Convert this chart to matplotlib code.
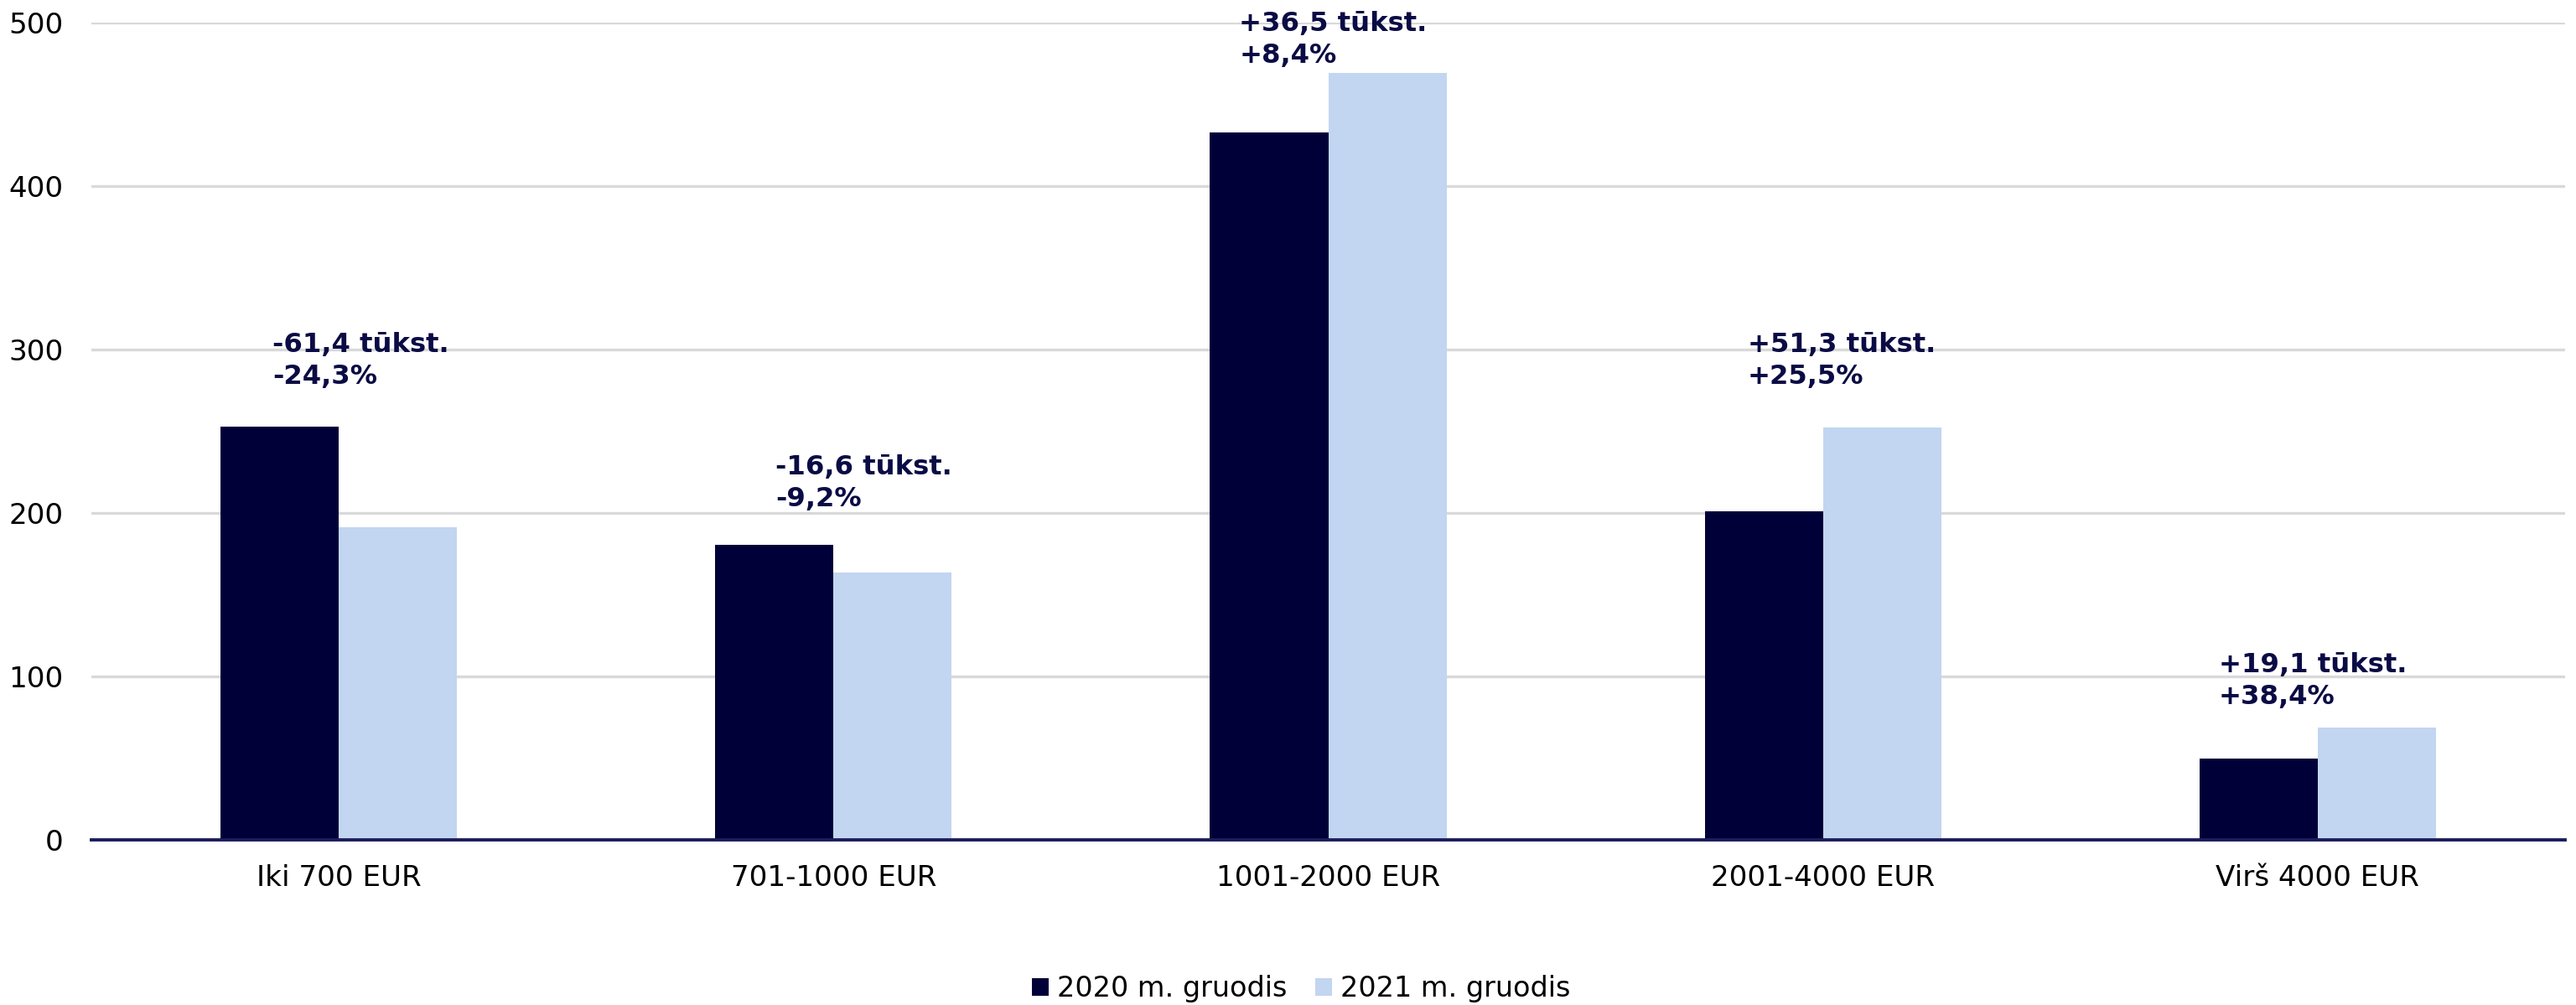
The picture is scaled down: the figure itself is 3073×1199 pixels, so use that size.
import matplotlib
matplotlib.use("Agg")
import matplotlib.pyplot as plt
import numpy as np

categories = ["Iki 700 EUR", "701-1000 EUR", "1001-2000 EUR", "2001-4000 EUR", "Virš 4000 EUR"]
series_names = ["2020 m. gruodis", "2021 m. gruodis"]
values_2020 = [252.7, 180.4, 433.0, 201.2, 49.7]
values_2021 = [191.3, 163.8, 469.3, 252.5, 68.8]
change_abs = ["-61,4 tūkst.", "-16,6 tūkst.", "+36,5 tūkst.", "+51,3 tūkst.", "+19,1 tūkst."]
change_pct = ["-24,3%", "-9,2%", "+8,4%", "+25,5%", "+38,4%"]
yticks = [0, 100, 200, 300, 400, 500]

# layout (annotation placement)
label_dx = [-0.134, -0.117, -0.18, -0.152, -0.2]
label_y2 = [279, 204, 475.5, 279, 83]
line_gap = 19.5

dark = "#000038"
light = "#C2D5F1"
txt_dark = "#0B0B45"

plt.rcParams['font.family'] = ['DejaVu Sans']
fig = plt.figure(figsize=(15.365, 5.995), dpi=200)
ax = fig.add_axes([109/3073, 1 - 1002/1199, (3060-109)/3073, (1002-27)/1199])

x = np.arange(len(categories))
w = 0.239
ax.bar(x - w/2, values_2020, width=w, color=dark, label=series_names[0], zorder=3)
ax.bar(x + w/2, values_2021, width=w, color=light, label=series_names[1], zorder=3)

ax.set_xlim(-0.5, len(categories) - 0.5)
ax.set_ylim(0, 500)
ax.set_yticks(yticks)
ax.set_xticks(x)
ax.set_xticklabels(categories)
ax.tick_params(axis='both', length=0, labelsize=12.3, colors="#000000")
ax.tick_params(axis='x', pad=10.5)
ax.tick_params(axis='y', pad=12)
ax.grid(axis='y', color="#D9D9D9", linewidth=1.2, zorder=0)
for s in ["top", "right", "left"]:
    ax.spines[s].set_visible(False)
ax.spines["bottom"].set_color("#1C1C5A")
ax.spines["bottom"].set_linewidth(1.4)
ax.spines["bottom"].set_zorder(4)

for i in range(len(categories)):
    ax.text(x[i] + label_dx[i], label_y2[i] + line_gap, change_abs[i], ha='left', va='baseline',
            fontsize=11.6, fontweight='bold', color=txt_dark, zorder=5)
    ax.text(x[i] + label_dx[i], label_y2[i], change_pct[i], ha='left', va='baseline',
            fontsize=11.6, fontweight='bold', color=txt_dark, zorder=5)

fig.legend(loc='center', bbox_to_anchor=(0.505, 1 - 1180/1199), ncol=2, frameon=False,
           fontsize=12, handlelength=0.6, handleheight=0.6, handletextpad=0.3,
           columnspacing=1.0)

fig.savefig("out.png", dpi=200, facecolor="white")
